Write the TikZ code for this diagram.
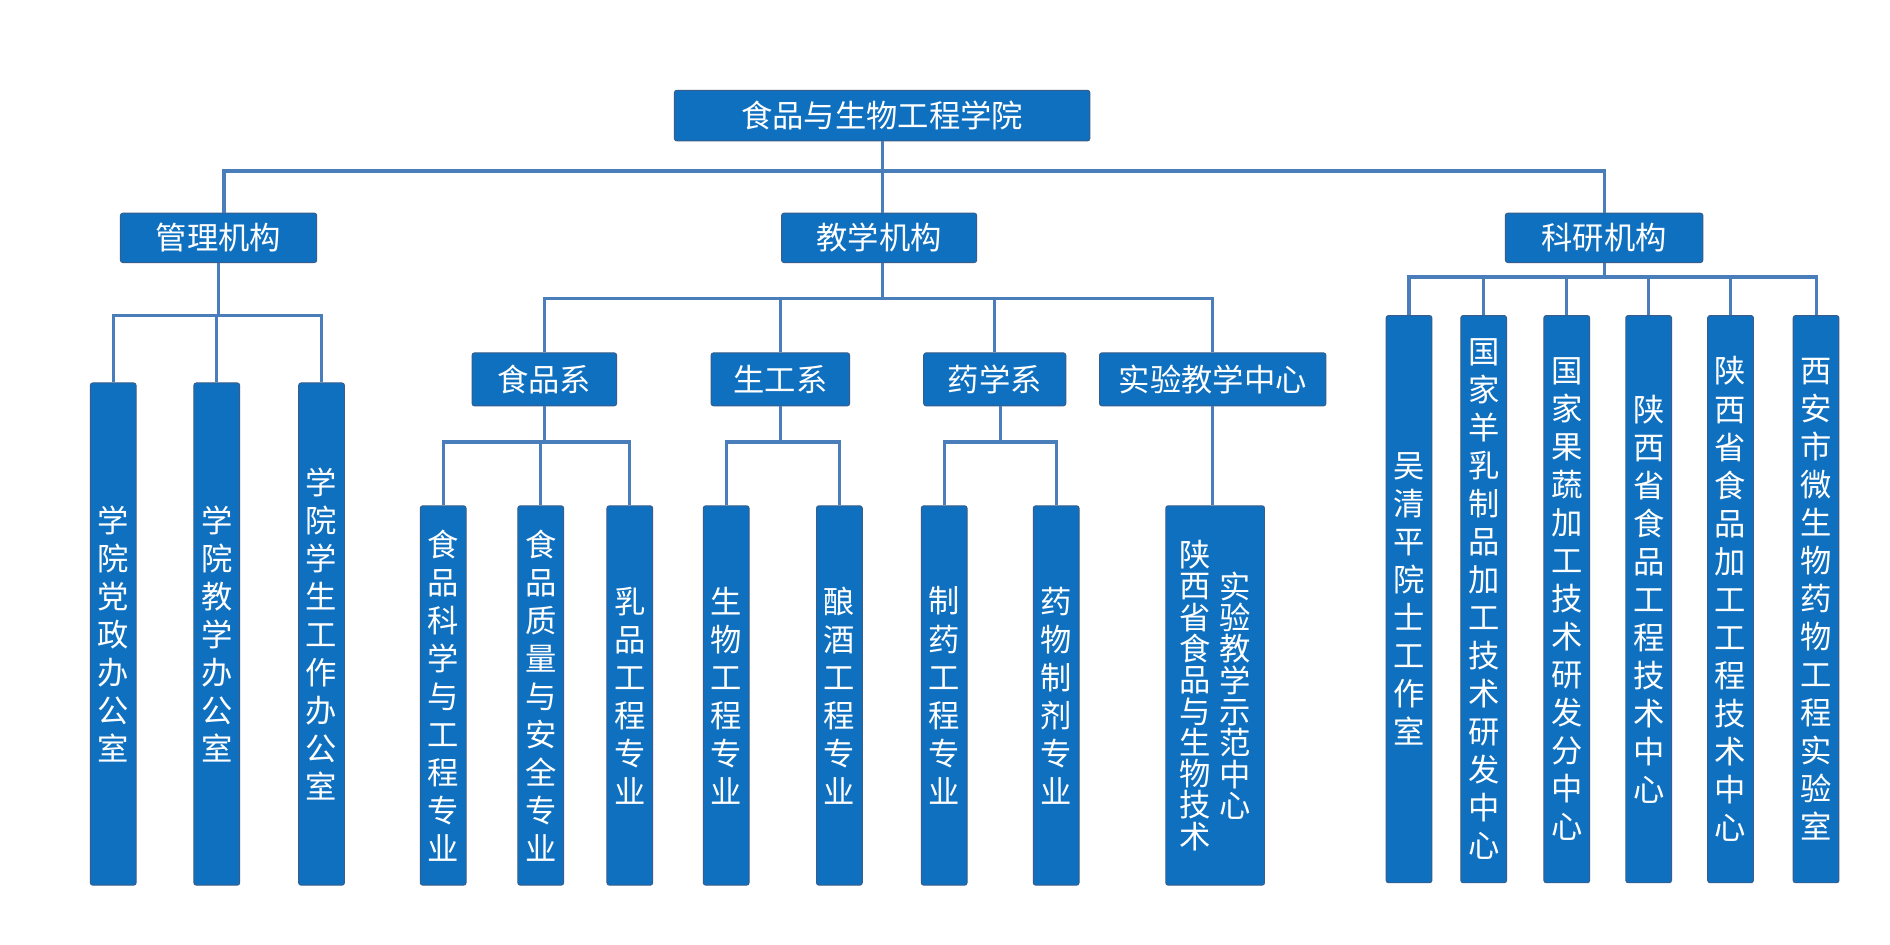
\documentclass[tikz,border=0pt]{standalone}
\usepackage{fontspec}
\setmainfont{Noto Sans CJK SC}

\definecolor{boxblue}{RGB}{16,112,192}
\definecolor{boxline}{RGB}{56,93,138}
\definecolor{linkblue}{RGB}{74,126,187}

\makeatletter
% one character per line
\newcommand\vlabel[1]{\def\vl@sep{}\@tfor\vl@ch:=#1\do{\vl@sep\vl@ch\def\vl@sep{\\}}}
\newcommand\vcol[2]{\parbox[c]{26pt}{\centering\baselineskip=#1\lineskiplimit=-20pt\relax\vlabel{#2}}}
\makeatother

\begin{document}
\begin{tikzpicture}
[
x=1pt, y=-1pt,
unit/.style={draw=boxline, line width=0.8pt, fill=boxblue, text=white, rounded corners=2pt, inner sep=0pt, font=\fontsize{26}{31.6}\selectfont},
dept/.style={unit, minimum height=44pt},
leaf/.style={unit, minimum width=38pt},
link/.style={draw=linkblue, line width=2.6pt}
]
\useasboundingbox (0,0) rectangle (1569.4,784.7);
\fill[white] (0,0) rectangle (1569.4,784.7);

\node[unit, minimum width=345pt, minimum height=42pt] (root) at (732.5,96) {食品与生物工程学院};

\node[unit, minimum width=163pt, minimum height=41pt] (mgmt) at (181.5,197.5) {管理机构};
\node[unit, minimum width=162pt, minimum height=41pt] (teach) at (730,197.5) {教学机构};
\node[unit, minimum width=164pt, minimum height=41pt] (research) at (1332,197.5) {科研机构};

% management
\node[leaf, minimum height=417pt] (m1) at (94,526.5) {\vcol{31.6pt}{学院党政办公室}};
\node[leaf, minimum height=417pt] (m2) at (180,526.5) {\vcol{31.6pt}{学院教学办公室}};
\node[leaf, minimum height=417pt] (m3) at (267,526.5) {\vcol{31.6pt}{学院学生工作办公室}};

% teaching
\node[dept, minimum width=120pt] (shipin) at (452,315) {食品系};
\node[dept, minimum width=115pt] (shenggong) at (648,315) {生工系};
\node[dept, minimum width=118pt] (yaoxue) at (826,315) {药学系};
\node[dept, minimum width=188pt] (shiyan) at (1007,315) {实验教学中心};

\node[leaf, minimum height=315pt] (s1) at (368,577.5) {\vcol{31.6pt}{食品科学与工程专业}};
\node[leaf, minimum height=315pt] (s2) at (449,577.5) {\vcol{31.6pt}{食品质量与安全专业}};
\node[leaf, minimum height=315pt] (s3) at (523,577.5) {\vcol{31.6pt}{乳品工程专业}};
\node[leaf, minimum height=315pt] (g1) at (603,577.5) {\vcol{31.6pt}{生物工程专业}};
\node[leaf, minimum height=315pt] (g2) at (697,577.5) {\vcol{31.6pt}{酿酒工程专业}};
\node[leaf, minimum height=315pt] (y1) at (784,577.5) {\vcol{31.6pt}{制药工程专业}};
\node[leaf, minimum height=315pt] (y2) at (877,577.5) {\vcol{31.6pt}{药物制剂专业}};
\node[leaf, minimum width=82pt, minimum height=315pt] (lab) at (1009,577.5)
  {\vcol{26pt}{陕西省食品与生物技术}\hspace{7pt}\vcol{26pt}{实验教学示范中心}};

% research
\node[leaf, minimum height=471pt] (r1) at (1170,497.5) {\vcol{31.6pt}{吴清平院士工作室}};
\node[leaf, minimum height=471pt] (r2) at (1232,497.5) {\vcol{31.6pt}{国家羊乳制品加工技术研发中心}};
\node[leaf, minimum height=471pt] (r3) at (1301,497.5) {\vcol{31.6pt}{国家果蔬加工技术研发分中心}};
\node[leaf, minimum height=471pt] (r4) at (1369,497.5) {\vcol{31.6pt}{陕西省食品工程技术中心}};
\node[leaf, minimum height=471pt] (r5) at (1437,497.5) {\vcol{31.6pt}{陕西省食品加工工程技术中心}};
\node[leaf, minimum height=471pt] (r6) at (1508,497.5) {\vcol{31.6pt}{西安市微生物药物工程实验室}};

% connectors
\coordinate (topbar) at (root.south |- 0,142);
\draw[link] (root.south) -- (root.south |- teach.north);
\draw[link] ([xshift=4.5pt]mgmt.north) |- (topbar) -| (research.north);

\coordinate (mbar) at (mgmt.south |- 0,262);
\draw[link] (mgmt.south) -- (mbar);
\foreach \c in {m1,m2,m3} \draw[link] (mbar) -| (\c.north);

\coordinate (tbar) at (root.south |- 0,248);
\draw[link] (teach.south -| tbar) -- (tbar);
\foreach \c in {shipin,shenggong,yaoxue,shiyan} \draw[link] (tbar) -| (\c.north);

\coordinate (sbar) at (shipin.south |- 0,367);
\draw[link] (shipin.south) -- (sbar);
\foreach \c in {s1,s2,s3} \draw[link] (sbar) -| (\c.north);

\coordinate (gbar) at (shenggong.south |- 0,367);
\draw[link] (shenggong.south) -- (gbar);
\foreach \c in {g1,g2} \draw[link] (gbar) -| (\c.north);

\coordinate (ybar) at ([xshift=5pt]yaoxue.south |- 0,367);
\draw[link] ([xshift=5pt]yaoxue.south) -- (ybar);
\foreach \c in {y1,y2} \draw[link] (ybar) -| (\c.north);

\draw[link] (shiyan.south) -- (shiyan.south |- lab.north);

\coordinate (rbar) at (research.south |- 0,230);
\draw[link] (research.south) -- (rbar);
\foreach \c in {r1,r2,r3,r4,r5,r6} \draw[link] (rbar) -| (\c.north);
\end{tikzpicture}
\end{document}
